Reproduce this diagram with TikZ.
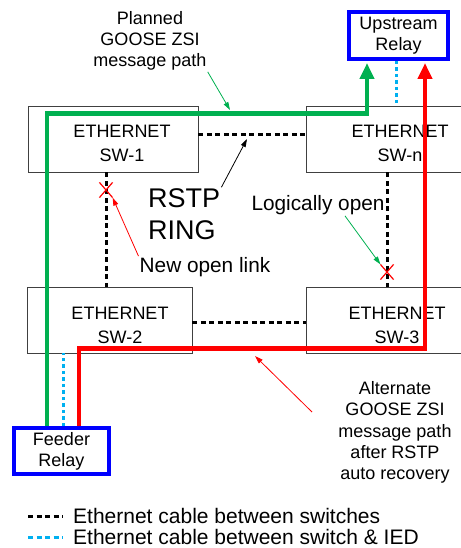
\documentclass[tikz,border=0pt]{standalone}
\usepackage{fontspec}
\setmainfont{Liberation Sans}
\usetikzlibrary{arrows.meta, calc, positioning, shapes.misc}
\definecolor{pathgreen}{HTML}{00B050}
\definecolor{pathred}{HTML}{FF0000}
\definecolor{relayblue}{HTML}{0000FF}
\definecolor{iedcyan}{HTML}{00B0F0}
\definecolor{boxgray}{HTML}{404040}
\tikzstyle{switch} = [rectangle, draw=boxgray, line width=0.8pt, minimum height=66pt, inner sep=0pt]
\tikzstyle{swtext} = [align=center, font=\fontsize{18}{24}\selectfont, inner sep=1pt]
\tikzstyle{relay} = [rectangle, draw=relayblue, line width=4pt, align=center, font=\fontsize{18}{21}\selectfont, inner sep=0pt]
\tikzstyle{txt} = [align=center, font=\fontsize{18}{21.3}\selectfont, inner sep=1pt]
\tikzstyle{bigtxt} = [align=center, font=\fontsize{20.8}{24}\selectfont, inner sep=1pt]
\tikzstyle{ringlink} = [line width=3pt, dash pattern=on 5pt off 3.5pt]
\tikzstyle{iedlink} = [iedcyan, line width=3pt, dash pattern=on 3.5pt off 3pt]
\tikzstyle{planned} = [pathgreen, line width=4.5pt, -{Triangle[length=16pt,width=14pt]}, shorten >=2pt]
\tikzstyle{alternate} = [pathred, line width=4.5pt, -{Triangle[length=16pt,width=14pt]}, shorten >=2pt]
\tikzstyle{pointer} = [line width=0.8pt, -{Triangle[length=8pt,width=5pt]}]
\tikzstyle{openx} = [cross out, draw=pathred, line width=1.2pt, minimum width=12pt, minimum height=14pt, inner sep=0pt]
\tikzstyle{legend} = [anchor=west, font=\fontsize{21}{22}\selectfont, inner sep=1pt]

\begin{document}
\begin{tikzpicture}[x=1pt, y=-1pt]
		\useasboundingbox (0,0) rectangle (460,548);
		
		\node (SwitchOne) [switch, minimum width=170pt] at (113,139) {};
		\node (SwitchN) [switch, minimum width=170pt] at (391,139) {};
		\node (SwitchTwo) [switch, minimum width=165pt] at (109.5,320) {};
		\node (SwitchThree) [switch, minimum width=170pt] at (391,320) {};
		\node [swtext] at ($(SwitchOne)+(9,4)$) {ETHERNET\\SW-1};
		\node [swtext] at ($(SwitchN)+(9,4)$) {ETHERNET\\SW-n};
		\node [swtext] at ($(SwitchTwo)+(10.5,5.5)$) {ETHERNET\\SW-2};
		\node [swtext] at ($(SwitchThree)+(6,5.5)$) {ETHERNET\\SW-3};
		
		\node (Upstream) [relay, minimum width=99pt, minimum height=47pt] at (398.5,35.5) {Upstream\\Relay};
		\node (Feeder) [relay, minimum width=95pt, minimum height=46pt] at (61.5,451) {Feeder\\Relay};
		
		\draw [ringlink] ([yshift=4pt]SwitchOne.east) -- ([yshift=4pt]SwitchN.west);
		\draw [ringlink] ([yshift=-2pt]SwitchTwo.east) -- ([yshift=-2pt]SwitchThree.west);
		\draw [ringlink] ([xshift=-7pt]SwitchOne.south) -- ([xshift=-3.5pt]SwitchTwo.north);
		\draw [ringlink] ([xshift=-4pt]SwitchN.south) -- ([xshift=-4pt]SwitchThree.north);
		
		\draw [iedlink] ([xshift=-2.5pt]Upstream.south) -- ([xshift=-2.5pt]Upstream.south |- SwitchN.north);
		\draw [iedlink] ([xshift=1.5pt]Feeder.north) -- ([xshift=1.5pt]Feeder.north |- SwitchTwo.south);
		
		\draw [planned] ([xshift=-14.5pt]Feeder.north) |- ([yshift=-8pt]SwitchOne.north) -| ([xshift=-31.5pt]Upstream.south);
		\draw [alternate] ([xshift=17.5pt]Feeder.north) |- ([yshift=5pt]SwitchTwo.south) -| ([xshift=26.5pt]Upstream.south);
		
		\node (OpenOne) [openx] at (106,190) {};
		\node (OpenTwo) [openx] at (387,272) {};
		
		\node (Planned) [txt] at (150,41) {Planned\\GOOSE ZSI\\message path};
		\node (Ring) [anchor=west, align=left, font=\fontsize{27}{32}\selectfont, inner sep=1pt] at (147,214) {RSTP\\RING};
		\node (NewOpen) [bigtxt] at (205,267) {New open link};
		\node (LogOpen) [bigtxt] at (318,205) {Logically open};
		\node (Alternate) [txt] at (395,432.5) {Alternate\\GOOSE ZSI\\message path\\after RSTP\\auto recovery};
		
		\coordinate (PlannedTip) at (230,110);
		\coordinate (RingTip) at (247,139);
		\coordinate (AltFrom) at (312,412);
		\coordinate (AltTip) at (255,356);
		
		\draw [pointer, pathgreen] (Planned.south east) -- (PlannedTip);
		\draw [pointer] (Ring.north east) -- (RingTip);
		\draw [pointer, pathred] (NewOpen.north west) -- (OpenOne.south east);
		\draw [pointer, pathgreen] ([xshift=27pt]LogOpen.south) -- (OpenTwo.north west);
		\draw [pointer, pathred] (AltFrom) -- (AltTip);
		
		\node (LegendRing) [legend] at (72,516) {Ethernet cable between switches};
		\node (LegendIed) [legend] at (72,537) {Ethernet cable between switch \& IED};
		\draw [ringlink] ([xshift=-44pt]LegendRing.west) -- ([xshift=-9pt]LegendRing.west);
		\draw [ringlink, iedcyan] ([xshift=-44pt]LegendIed.west) -- ([xshift=-9pt]LegendIed.west);
		
\end{tikzpicture}
\end{document}
